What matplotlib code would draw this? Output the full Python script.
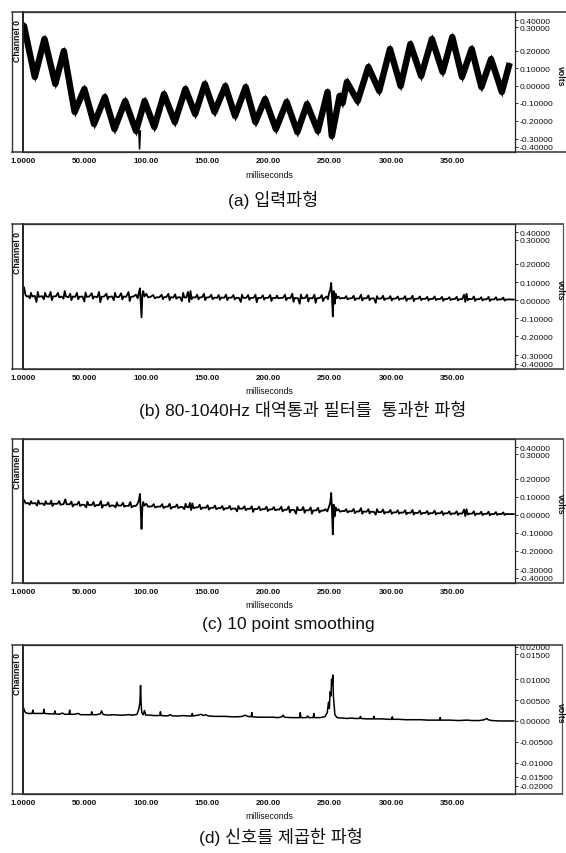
import matplotlib
matplotlib.use("Agg")
import matplotlib.pyplot as plt
from matplotlib.lines import Line2D

plt.rcParams['font.family'] = ['Liberation Sans', 'Noto Sans CJK KR', 'DejaVu Sans']

# ---------------- data ----------------
x_ticks = [0, 50, 100, 150, 200, 250, 300, 350]
x_tick_labels = ['1.0000', '50.000', '100.00', '150.00', '200.00', '250.00', '300.00', '350.00']

volt_labels = ['0.40000', '0.30000', '0.20000', '0.10000', '0.00000',
               '-0.10000', '-0.20000', '-0.30000', '-0.40000']
volt_label_pos = [0.374, 0.334, 0.2, 0.1, 0.0, -0.1, -0.2, -0.303, -0.350]
sq_labels = ['0.02000', '0.01500', '0.01000', '0.00500', '0.00000',
             '-0.00500', '-0.01000', '-0.01500', '-0.02000']
sq_label_pos = [0.0178, 0.0160, 0.010, 0.005, 0.0, -0.005, -0.010, -0.0134, -0.0155]

captions = ['(a) 입력파형',
            '(b) 80-1040Hz 대역통과 필터를  통과한 파형',
            '(c) 10 point smoothing',
            '(d) 신호를 제곱한 파형']

# (a) input waveform: peak / trough points (ms, volts)
input_wave = [
    (0.0, 0.30), (0.8, 0.34), (9.6, 0.049), (17.5, 0.266), (26.3, 0.009), (33.3, 0.197),
    (42.1, -0.151), (50.0, -0.020), (57.9, -0.220), (66.7, -0.066), (74.5, -0.249),
    (83.3, -0.089), (92.1, -0.260), (99.1, -0.089), (107.0, -0.237), (114.9, -0.049),
    (123.7, -0.209), (132.4, -0.020), (140.3, -0.163), (148.2, 0.009), (156.1, -0.151),
    (164.9, -0.003), (172.8, -0.174), (181.5, -0.009), (189.4, -0.209), (197.3, -0.077),
    (206.1, -0.249), (214.9, -0.094), (223.6, -0.266), (231.5, -0.106), (240.3, -0.260),
    (248.2, -0.037), (251.7, -0.289), (258.0, -0.060), (260.5, -0.100), (264.0, 0.020),
    (272.7, -0.089), (281.5, 0.106), (290.3, -0.031), (299.1, 0.209), (307.8, -0.003),
    (315.7, 0.237), (324.5, 0.054), (333.3, 0.266), (342.0, 0.077), (349.9, 0.277),
    (357.8, 0.049), (365.7, 0.209), (373.6, -0.009), (381.5, 0.151), (390.3, -0.037),
    (396.0, 0.111)]
input_spike = [(94.3, -0.25), (95.0, -0.363), (95.7, -0.26)]

# (b) band-pass filtered waveform (ms, volts)
bandpass_wave = [
    (0.0, 0.00), (0.3, 0.075), (1.2, 0.060), (2.0, 0.030), (3.0, 0.020), (4.5, 0.022),
    (5.5, 0.010), (6.5, 0.040), (7.5, 0.020), (9.5, 0.024), (11.0, -0.010), (12.0, 0.045),
    (13.0, 0.018), (15.5, 0.022), (17.0, 0.005), (18.0, 0.040), (19.0, 0.020), (21.0, 0.018),
    (22.5, 0.045), (23.5, 0.000), (24.5, 0.020), (27.0, 0.022), (28.5, 0.040), (29.5, 0.015),
    (31.5, 0.020), (33.0, 0.008), (34.0, 0.050), (35.0, 0.020), (37.0, 0.016), (38.5, 0.035),
    (39.5, 0.000), (40.5, 0.020), (42.5, 0.018), (44.0, 0.040), (45.0, 0.005), (46.0, 0.018),
    (48.5, 0.020), (50.0, -0.008), (51.0, 0.042), (52.0, 0.018), (54.0, 0.020), (56.0, 0.038),
    (57.0, 0.008), (58.0, 0.020), (60.5, 0.016), (62.0, 0.045), (63.0, -0.012), (64.0, 0.018),
    (66.0, 0.020), (68.0, 0.035), (69.0, 0.005), (70.0, 0.018), (72.5, 0.020), (74.0, 0.000),
    (75.0, 0.040), (76.0, 0.018), (78.0, 0.016), (80.0, 0.038), (81.0, 0.004), (82.0, 0.020),
    (84.0, 0.018), (86.0, 0.045), (87.0, -0.005), (88.0, 0.018), (90.0, 0.020), (92.0, 0.030),
    (93.5, 0.010), (94.5, 0.045), (95.3, 0.065), (96.0, -0.020), (96.6, -0.095), (97.3, 0.030),
    (98.0, 0.050), (99.0, 0.020), (100.5, 0.035), (102.0, 0.015), (104.0, 0.018), (106.0, 0.028),
    (107.5, 0.010), (109.0, 0.016), (111.0, 0.015), (113.0, 0.030), (114.0, 0.005), (115.0, 0.016),
    (117.0, 0.018), (118.5, 0.035), (119.5, 0.000), (120.5, 0.016), (122.5, 0.014), (124.0, 0.032),
    (125.0, 0.008), (126.0, 0.015), (128.0, 0.016), (129.5, -0.005), (130.5, 0.040), (131.5, 0.015),
    (133.0, 0.014), (134.5, 0.045), (135.5, -0.010), (136.5, 0.050), (137.5, 0.005), (138.5, 0.016),
    (140.5, 0.014), (142.0, 0.030), (143.0, 0.004), (144.0, 0.015), (146.0, 0.016), (147.5, 0.035),
    (148.5, 0.000), (149.5, 0.014), (152.0, 0.016), (153.5, 0.030), (154.5, 0.005), (156.0, 0.014),
    (158.0, 0.012), (159.5, 0.028), (160.5, 0.002), (161.5, 0.014), (164.0, 0.013), (165.5, 0.030),
    (166.5, 0.000), (167.5, 0.013), (170.0, 0.014), (171.5, 0.028), (172.5, 0.004), (174.0, 0.013),
    (176.0, 0.012), (177.5, -0.010), (178.5, 0.030), (179.5, 0.012), (182.0, 0.013), (183.5, 0.028),
    (184.5, 0.002), (185.5, 0.012), (188.0, 0.013), (189.5, 0.030), (190.5, -0.012), (191.5, 0.012),
    (194.0, 0.012), (195.5, 0.026), (196.5, 0.003), (197.5, 0.012), (200.0, 0.013), (201.5, 0.028),
    (202.5, -0.005), (203.5, 0.012), (206.0, 0.011), (207.0, 0.025), (208.0, 0.010), (210.0, 0.012),
    (212.0, 0.013), (213.5, 0.030), (214.5, 0.000), (215.5, 0.011), (218.0, 0.012), (219.5, 0.035),
    (220.5, -0.010), (221.5, 0.012), (224.0, 0.011), (225.5, -0.020), (226.5, 0.030), (227.5, 0.010),
    (230.0, 0.012), (231.5, 0.030), (232.5, -0.008), (233.5, 0.011), (236.0, 0.010), (237.5, 0.030),
    (238.5, -0.015), (239.5, 0.010), (242.0, 0.012), (243.5, 0.028), (244.5, -0.005), (245.5, 0.010),
    (247.5, 0.020), (248.5, 0.005), (249.5, 0.040), (250.5, 0.060), (251.2, 0.095), (251.8, 0.020),
    (252.5, -0.090), (253.2, 0.050), (254.0, -0.020), (254.8, 0.035), (255.8, 0.010), (257.0, 0.020),
    (258.5, 0.008), (260.0, 0.012), (262.0, 0.010), (263.5, 0.022), (264.5, 0.004), (266.0, 0.010),
    (268.0, 0.010), (269.5, 0.024), (270.5, 0.000), (272.0, 0.010), (274.0, 0.008), (275.5, 0.030),
    (276.5, -0.002), (277.5, 0.010), (280.0, 0.010), (281.5, 0.026), (282.5, 0.000), (283.5, 0.009),
    (286.0, 0.010), (287.5, -0.015), (288.5, 0.022), (289.5, 0.008), (292.0, 0.009), (293.5, 0.024),
    (294.5, 0.000), (295.5, 0.008), (298.0, 0.009), (299.5, 0.022), (300.5, -0.002), (301.5, 0.008),
    (304.0, 0.009), (305.5, 0.020), (306.5, 0.001), (307.5, 0.008), (310.0, 0.008), (311.5, 0.022),
    (312.5, -0.004), (313.5, 0.007), (316.0, 0.008), (317.5, 0.024), (318.5, -0.006), (319.5, 0.007),
    (322.0, 0.008), (323.5, 0.020), (324.5, 0.000), (325.5, 0.007), (328.0, 0.007), (329.5, 0.018),
    (330.5, -0.002), (331.5, 0.006), (334.0, 0.007), (335.5, 0.020), (336.5, 0.000), (337.5, 0.006),
    (340.0, 0.006), (341.5, 0.018), (342.5, -0.004), (343.5, 0.006), (346.0, 0.006), (347.5, 0.016),
    (348.5, 0.000), (349.5, 0.005), (352.0, 0.006), (353.5, 0.018), (354.5, -0.002), (355.5, 0.005),
    (358.0, 0.006), (359.5, 0.030), (360.5, -0.010), (361.5, 0.035), (362.5, 0.000), (363.5, 0.006),
    (366.0, 0.005), (367.5, 0.020), (368.5, -0.004), (369.5, 0.005), (372.0, 0.005), (373.5, 0.016),
    (374.5, -0.002), (375.5, 0.004), (378.0, 0.005), (379.5, 0.018), (380.5, -0.005), (381.5, 0.004),
    (384.0, 0.004), (385.5, 0.016), (386.5, 0.000), (387.5, 0.004), (390.0, 0.004), (391.5, 0.014),
    (392.5, -0.003), (393.5, 0.003), (396.0, 0.004), (400.0, 0.003)]

# (c) 10 point smoothing (ms, volts)
smooth_wave = [
    (0.0, 0.020), (0.3, 0.085), (1.2, 0.075), (2.5, 0.062), (4.0, 0.065), (5.5, 0.055),
    (6.5, 0.075), (7.5, 0.062), (10.0, 0.064), (11.5, 0.050), (12.5, 0.078), (13.5, 0.060),
    (16.0, 0.062), (17.5, 0.052), (18.5, 0.075), (19.5, 0.060), (22.0, 0.060), (23.0, 0.078),
    (24.0, 0.048), (25.0, 0.060), (28.0, 0.060), (29.5, 0.075), (30.5, 0.055), (33.0, 0.058),
    (34.5, 0.085), (35.5, 0.058), (38.0, 0.057), (39.5, 0.072), (40.5, 0.045), (41.5, 0.056),
    (44.0, 0.056), (45.5, 0.072), (46.5, 0.048), (48.0, 0.055), (50.0, 0.054), (51.5, 0.040),
    (52.5, 0.072), (53.5, 0.054), (56.0, 0.053), (57.5, 0.070), (58.5, 0.046), (60.0, 0.053),
    (62.0, 0.052), (63.5, 0.075), (64.5, 0.038), (65.5, 0.052), (68.0, 0.052), (69.5, 0.068),
    (70.5, 0.044), (72.0, 0.051), (74.0, 0.050), (75.5, 0.040), (76.5, 0.068), (77.5, 0.050),
    (80.0, 0.050), (81.5, 0.066), (82.5, 0.044), (84.0, 0.049), (86.0, 0.048), (87.5, 0.070),
    (88.5, 0.040), (90.0, 0.048), (92.0, 0.048), (93.5, 0.062), (94.5, 0.080), (95.3, 0.115),
    (96.0, 0.020), (96.6, -0.080), (97.3, 0.040), (98.0, 0.070), (99.0, 0.050), (100.5, 0.060),
    (102.0, 0.044), (105.0, 0.046), (106.5, 0.058), (107.5, 0.040), (110.0, 0.045), (112.0, 0.044),
    (113.5, 0.058), (114.5, 0.036), (116.0, 0.044), (118.0, 0.044), (119.5, 0.060), (120.5, 0.032),
    (122.0, 0.043), (124.0, 0.042), (125.5, 0.056), (126.5, 0.036), (128.0, 0.042), (130.0, 0.042),
    (131.5, 0.030), (132.5, 0.060), (133.5, 0.042), (135.0, 0.040), (136.0, 0.065), (137.0, 0.025),
    (138.0, 0.062), (139.0, 0.035), (140.5, 0.040), (142.5, 0.040), (144.0, 0.055), (145.0, 0.030),
    (146.5, 0.039), (149.0, 0.038), (150.5, 0.052), (151.5, 0.028), (153.0, 0.038), (155.0, 0.037),
    (156.5, 0.050), (157.5, 0.030), (159.0, 0.036), (161.0, 0.036), (162.5, 0.048), (163.5, 0.026),
    (165.0, 0.035), (167.0, 0.035), (168.5, 0.048), (169.5, 0.028), (171.0, 0.034), (173.0, 0.034),
    (174.5, 0.018), (175.5, 0.048), (176.5, 0.033), (179.0, 0.033), (180.5, 0.046), (181.5, 0.025),
    (183.0, 0.032), (185.0, 0.032), (186.5, 0.046), (187.5, 0.015), (188.5, 0.031), (191.0, 0.031),
    (192.5, 0.044), (193.5, 0.024), (195.0, 0.030), (197.0, 0.030), (198.5, 0.044), (199.5, 0.020),
    (201.0, 0.029), (203.0, 0.029), (204.5, 0.042), (205.5, 0.024), (207.0, 0.028), (209.0, 0.028),
    (210.5, 0.044), (211.5, 0.018), (213.0, 0.027), (215.0, 0.027), (216.5, 0.045), (217.5, 0.012),
    (218.5, 0.026), (221.0, 0.026), (222.5, 0.005), (223.5, 0.042), (224.5, 0.025), (227.0, 0.025),
    (228.5, 0.042), (229.5, 0.010), (230.5, 0.024), (233.0, 0.024), (234.5, 0.040), (235.5, 0.005),
    (236.5, 0.023), (239.0, 0.023), (240.5, 0.038), (241.5, 0.012), (243.0, 0.022), (245.0, 0.022),
    (246.5, 0.030), (248.0, 0.018), (249.5, 0.045), (250.5, 0.070), (251.2, 0.120), (251.8, 0.030),
    (252.5, -0.110), (253.2, 0.055), (254.0, -0.010), (254.8, 0.040), (255.8, 0.022), (257.0, 0.030),
    (258.5, 0.016), (260.0, 0.020), (262.0, 0.019), (263.5, 0.030), (264.5, 0.012), (266.0, 0.019),
    (268.0, 0.018), (269.5, 0.032), (270.5, 0.008), (272.0, 0.018), (274.0, 0.017), (275.5, 0.036),
    (276.5, 0.005), (277.5, 0.017), (280.0, 0.016), (281.5, 0.030), (282.5, 0.006), (283.5, 0.016),
    (286.0, 0.015), (287.5, 0.000), (288.5, 0.030), (289.5, 0.014), (292.0, 0.014), (293.5, 0.028),
    (294.5, 0.005), (295.5, 0.013), (298.0, 0.013), (299.5, 0.026), (300.5, 0.004), (301.5, 0.012),
    (304.0, 0.012), (305.5, 0.024), (306.5, 0.005), (307.5, 0.011), (310.0, 0.011), (311.5, 0.024),
    (312.5, 0.002), (313.5, 0.010), (316.0, 0.010), (317.5, 0.026), (318.5, 0.000), (319.5, 0.010),
    (322.0, 0.009), (323.5, 0.022), (324.5, 0.002), (325.5, 0.009), (328.0, 0.009), (329.5, 0.020),
    (330.5, 0.001), (331.5, 0.008), (334.0, 0.008), (335.5, 0.022), (336.5, 0.001), (337.5, 0.008),
    (340.0, 0.007), (341.5, 0.018), (342.5, -0.002), (343.5, 0.007), (346.0, 0.007), (347.5, 0.018),
    (348.5, 0.000), (349.5, 0.006), (352.0, 0.006), (353.5, 0.018), (354.5, -0.002), (355.5, 0.006),
    (358.0, 0.006), (359.5, 0.028), (360.5, -0.008), (361.5, 0.030), (362.5, 0.000), (363.5, 0.005),
    (366.0, 0.005), (367.5, 0.018), (368.5, -0.004), (369.5, 0.005), (372.0, 0.004), (373.5, 0.016),
    (374.5, -0.003), (375.5, 0.004), (378.0, 0.004), (379.5, 0.016), (380.5, -0.004), (381.5, 0.003),
    (384.0, 0.003), (385.5, 0.014), (386.5, -0.002), (387.5, 0.003), (390.0, 0.003), (391.5, 0.012),
    (392.5, -0.002), (393.5, 0.003), (396.0, 0.003), (400.0, 0.003)]

# (d) squared signal (ms, volts)
squared_wave = [
    (0.0, 0.0), (0.3, 0.0032), (1.0, 0.0026), (2.0, 0.0020), (4.0, 0.0018), (7.5, 0.0018),
    (8.0, 0.0026), (8.5, 0.0018), (12.0, 0.0018), (16.5, 0.0018), (17.0, 0.0028), (17.5, 0.0018),
    (22.0, 0.0017), (25.5, 0.0017), (26.0, 0.0024), (26.5, 0.0017), (30.0, 0.0016), (32.0, 0.0019),
    (34.0, 0.0016), (37.5, 0.0016), (38.0, 0.0026), (38.5, 0.0016), (42.0, 0.0016), (45.0, 0.0018),
    (47.0, 0.0015), (52.0, 0.0015), (55.5, 0.0015), (56.0, 0.0022), (56.5, 0.0015), (60.0, 0.0015),
    (63.0, 0.0017), (64.0, 0.0024), (65.0, 0.0017), (66.0, 0.0015), (70.0, 0.0014), (74.0, 0.0015),
    (78.0, 0.0014), (82.0, 0.0014), (86.0, 0.0015), (90.0, 0.0014), (93.0, 0.0016), (94.5, 0.0030),
    (95.3, 0.0045), (95.8, 0.0085), (96.3, 0.0040), (96.8, 0.0020), (98.0, 0.0015), (99.0, 0.0025),
    (100.0, 0.0014), (104.0, 0.0014), (106.0, 0.0013), (110.0, 0.0013), (111.5, 0.0013),
    (112.0, 0.0022), (112.5, 0.0013), (118.0, 0.0012), (120.0, 0.0015), (122.0, 0.0012),
    (126.0, 0.0012), (128.0, 0.0012), (130.0, 0.0013), (134.0, 0.0012), (137.5, 0.0012),
    (138.0, 0.0018), (138.5, 0.0012), (143.0, 0.0014), (145.0, 0.0016), (147.0, 0.0013),
    (149.0, 0.0015), (151.0, 0.0012), (156.0, 0.0011), (160.0, 0.0011), (165.0, 0.0011),
    (170.0, 0.0010), (175.0, 0.0010), (179.0, 0.0011), (181.0, 0.0014), (183.0, 0.0011),
    (186.0, 0.0010), (186.5, 0.0020), (187.0, 0.0010), (192.0, 0.0009), (196.0, 0.0009),
    (200.0, 0.0009), (204.0, 0.0009), (208.0, 0.0008), (211.0, 0.0010), (212.0, 0.0014),
    (213.0, 0.0009), (218.0, 0.0008), (222.0, 0.0008), (225.5, 0.0008), (226.0, 0.0020),
    (226.5, 0.0008), (231.0, 0.0008), (232.0, 0.0012), (233.0, 0.0008), (236.5, 0.0008),
    (237.0, 0.0018), (237.5, 0.0008), (242.0, 0.0008), (246.0, 0.0010), (248.0, 0.0020),
    (249.0, 0.0045), (249.7, 0.0030), (250.3, 0.0070), (251.0, 0.0060), (251.5, 0.0100),
    (252.0, 0.0085), (252.5, 0.0110), (253.0, 0.0060), (253.5, 0.0040), (254.2, 0.0015),
    (256.0, 0.0008), (260.0, 0.0007), (264.0, 0.0006), (268.0, 0.0007), (270.0, 0.0006),
    (274.5, 0.0006), (275.0, 0.0011), (275.5, 0.0006), (280.0, 0.0005), (285.5, 0.0005),
    (286.0, 0.0011), (286.5, 0.0005), (292.0, 0.0005), (298.0, 0.0004), (300.5, 0.0004),
    (301.0, 0.0010), (301.5, 0.0004), (306.0, 0.0004), (312.0, 0.0003), (318.0, 0.0003),
    (324.0, 0.0003), (330.0, 0.0002), (339.5, 0.0002), (340.0, 0.0008), (340.5, 0.0002),
    (348.0, 0.0002), (355.0, 0.0001), (362.0, 0.0002), (366.0, 0.0001), (372.0, 0.0001),
    (376.0, 0.0003), (378.0, 0.0006), (379.0, 0.0003), (382.0, 0.0001), (388.0, 0.0),
    (394.0, 0.0), (400.0, 0.0)]

# ---------------- layout (pixels) ----------------
W, H = 566, 854
fig = plt.figure(figsize=(W / 100, H / 100), dpi=100)
fig.patch.set_facecolor('white')

AX_L, AX_R = 23, 515
OUT_L = 12
INK = '#101010'

panels = [
    dict(top=13, bottom=153, right=566, cap_x=273, cap_y=200, kind='v'),
    dict(top=225, bottom=370, right=563, cap_x=303, cap_y=410, kind='v'),
    dict(top=440, bottom=584, right=563, cap_x=288, cap_y=625, kind='v'),
    dict(top=646, bottom=795, right=562, cap_x=281, cap_y=837, kind='s'),
]


def fx(x):
    return x / W


def fy(y):
    return 1 - y / H


def fig_line(xs, ys, lw=1.0, color='#333333'):
    fig.add_artist(Line2D([fx(v) for v in xs], [fy(v) for v in ys],
                          transform=fig.transFigure, color=color, lw=lw))


axes = []
for i, p in enumerate(panels):
    top, bot = p['top'], p['bottom']
    ax = fig.add_axes([fx(AX_L), fy(bot), fx(AX_R) - fx(AX_L), (bot - top) / H])
    ax.set_facecolor('white')
    ax.set_xlim(0, 401)
    if p['kind'] == 'v':
        ax.set_ylim(-0.38, 0.42)
        ax.set_yticks(volt_label_pos, labels=volt_labels)
    else:
        ax.set_ylim(-0.0175, 0.0182)
        ax.set_yticks(sq_label_pos, labels=sq_labels)
    ax.yaxis.tick_right()
    ax.tick_params(axis='y', direction='out', length=2, width=0.6, pad=1,
                   labelsize=6.1, colors=INK)
    ax.set_xticks(x_ticks, labels=x_tick_labels)
    ax.tick_params(axis='x', length=0, pad=3.5, labelsize=5.8, colors=INK)
    for lab in ax.get_xticklabels():
        lab.set_fontweight('bold')
    for s in ax.spines.values():
        s.set_color('#222222')
        s.set_linewidth(0.9)
    ax.spines['left'].set_linewidth(1.4)
    axes.append(ax)

    # outer frame
    fig_line([OUT_L, p['right']], [top, top], lw=1.1)
    fig_line([OUT_L, p['right']], [bot, bot], lw=1.1)
    fig_line([OUT_L, OUT_L], [top, bot], lw=1.0)
    if p['right'] < W:
        fig_line([p['right'], p['right']], [top, bot], lw=0.9, color='#555555')

    fig.text(fx(17.5), fy(top + 28), 'Channel 0', rotation=90, ha='center', va='center',
             fontsize=6.3, fontweight='bold', color=INK)
    fig.text(fx(560), fy(bot - 0.55 * (bot - top)), 'volts', rotation=270,
             ha='center', va='center', fontsize=6.3, fontweight='bold', color=INK)
    fig.text(fx((AX_L + AX_R) / 2), fy(bot + 22), 'milliseconds', ha='center', va='center',
             fontsize=6.3, color=INK)
    fig.text(fx(p['cap_x']), fy(p['cap_y']), captions[i], ha='center', va='center',
             fontsize=12.5, color=INK)

# ---------------- traces ----------------
ta, va = zip(*input_wave)
axes[0].fill_between(ta, [v - 0.03 for v in va], [v + 0.03 for v in va],
                     color='black', lw=0)
axes[0].plot(ta, va, color='black', lw=4.6, solid_joinstyle='round')
ts, vs = zip(*input_spike)
axes[0].plot(ts, vs, color='black', lw=1.1)

tb, vb = zip(*bandpass_wave)
axes[1].plot(tb, vb, color='black', lw=1.3)

tc, vc = zip(*smooth_wave)
axes[2].plot(tc, vc, color='black', lw=1.3)

td, vd = zip(*squared_wave)
axes[3].plot(td, vd, color='black', lw=1.1)

fig.savefig('out.png', dpi=100, facecolor='white')
